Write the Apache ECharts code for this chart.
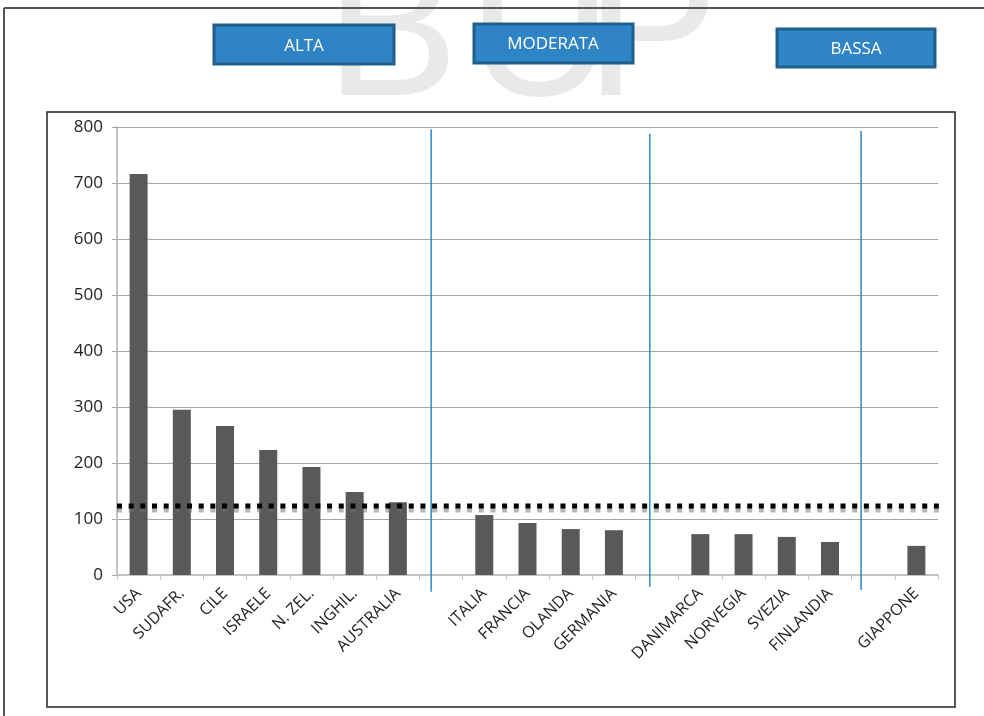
<!DOCTYPE html>
<html>
<head>
<meta charset="utf-8">
<script src="https://cdn.jsdelivr.net/npm/echarts@6/dist/echarts.min.js"></script>
<style>
html,body{margin:0;padding:0;background:#fff;}
#chart{width:984px;height:716px;}
</style>
</head>
<body>
<div id="chart"></div>
<script>
// ---- data ----
const categories = ['USA','SUDAFR.','CILE','ISRAELE','N. ZEL.','INGHIL.','AUSTRALIA',' ','ITALIA','FRANCIA','OLANDA','GERMANIA','  ','DANIMARCA','NORVEGIA','SVEZIA','FINLANDIA','   ','GIAPPONE'];
const values = [716,295,266,223,193,148,130,null,107,93,82,80,null,73,73,68,59,null,52];
const referenceValue = 123;
const referenceSpan = [0, 19.32];          // in category-slot units
const groupLabels = ['ALTA','MODERATA','BASSA'];
const dividerX = [7.27, 12.33, 17.22];     // in category-slot units
const dividerTop = [796, 788, 793];
const dividerBottom = [-30, -21, -27];
const yTicks = {min:0, max:800, interval:100};

const chart = echarts.init(document.getElementById('chart'));

const dividerSeries = dividerX.map((x,i)=>({
  type:'line', xAxisIndex:1, yAxisIndex:0, clip:false, silent:true, symbol:'none',
  data:[[x,dividerBottom[i]],[x,dividerTop[i]]],
  lineStyle:{color:'#2e86c8', width:1.5}, z:4
}));

const boxes = [
  {x:214,y:25,w:180,h:39,tx:304,ty:46},
  {x:474,y:24,w:159,h:39,tx:553,ty:44},
  {x:777,y:29,w:158,h:38,tx:856,ty:49}
];

const watermark = [
  {t:'B',x:392},{t:'U',x:540},{t:'P',x:652}
];

chart.setOption({
  animation:false,
  backgroundColor:'#fff',
  grid:{left:117, right:46, top:127, bottom:141, containLabel:false},
  xAxis:[{
    type:'category', data:categories,
    axisLine:{lineStyle:{color:'#c4c4c4', width:2}},
    axisTick:{show:true, length:5, lineStyle:{color:'#c4c4c4'}},
    axisLabel:{interval:0, rotate:45, margin:16, color:'#222', fontSize:16, fontFamily:'Open Sans'},
    splitLine:{show:false}
  },{
    type:'value', min:0, max:19, show:false
  }],
  yAxis:{
    type:'value', min:yTicks.min, max:yTicks.max, interval:yTicks.interval,
    axisLine:{show:true, lineStyle:{color:'#c4c4c4', width:2}},
    axisTick:{show:true, length:5, lineStyle:{color:'#a5a5a5'}},
    axisLabel:{margin:14, color:'#222', fontSize:17, fontFamily:'Open Sans'},
    splitLine:{lineStyle:{color:'#a5a5a5', width:1.2}}
  },
  series:[
    {type:'bar', data:values, barWidth:18, itemStyle:{color:'#58595b'}, z:2},
    {type:'line', xAxisIndex:1, yAxisIndex:0, clip:false, symbol:'none', silent:true,
     data:[[referenceSpan[0],referenceValue],[referenceSpan[1],referenceValue]],
     lineStyle:{color:'#000', width:5, type:[5,6.67], cap:'butt',
       shadowColor:'rgba(110,110,110,0.5)', shadowOffsetY:4, shadowBlur:0}, z:5},
    ...dividerSeries
  ],
  graphic:[
    ...watermark.map(w=>({type:'text', z:-10, silent:true,
      style:{text:w.t, x:w.x, y:140, font:'200px "Liberation Sans"', fill:'#e9e9e9', align:'center', verticalAlign:'bottom'}})),
    {type:'line', shape:{x1:4,y1:8,x2:984,y2:8}, style:{stroke:'#555', lineWidth:2}},
    {type:'line', shape:{x1:4,y1:8,x2:4,y2:716}, style:{stroke:'#555', lineWidth:2}},
    {type:'rect', shape:{x:47,y:112,width:908,height:595}, style:{fill:'#fff', stroke:'#222', lineWidth:1.5}, z:-5},
    ...boxes.map((b,i)=>({type:'group', children:[
      {type:'rect', shape:{x:b.x,y:b.y,width:b.w,height:b.h}, style:{fill:'#2f84c5', stroke:'#1f5f8c', lineWidth:3}},
      {type:'text', style:{text:groupLabels[i], x:b.tx, y:b.ty, fill:'#fff', font:'17px "Open Sans"', align:'center', verticalAlign:'middle'}}
    ]}))
  ]
});
</script>
</body>
</html>
